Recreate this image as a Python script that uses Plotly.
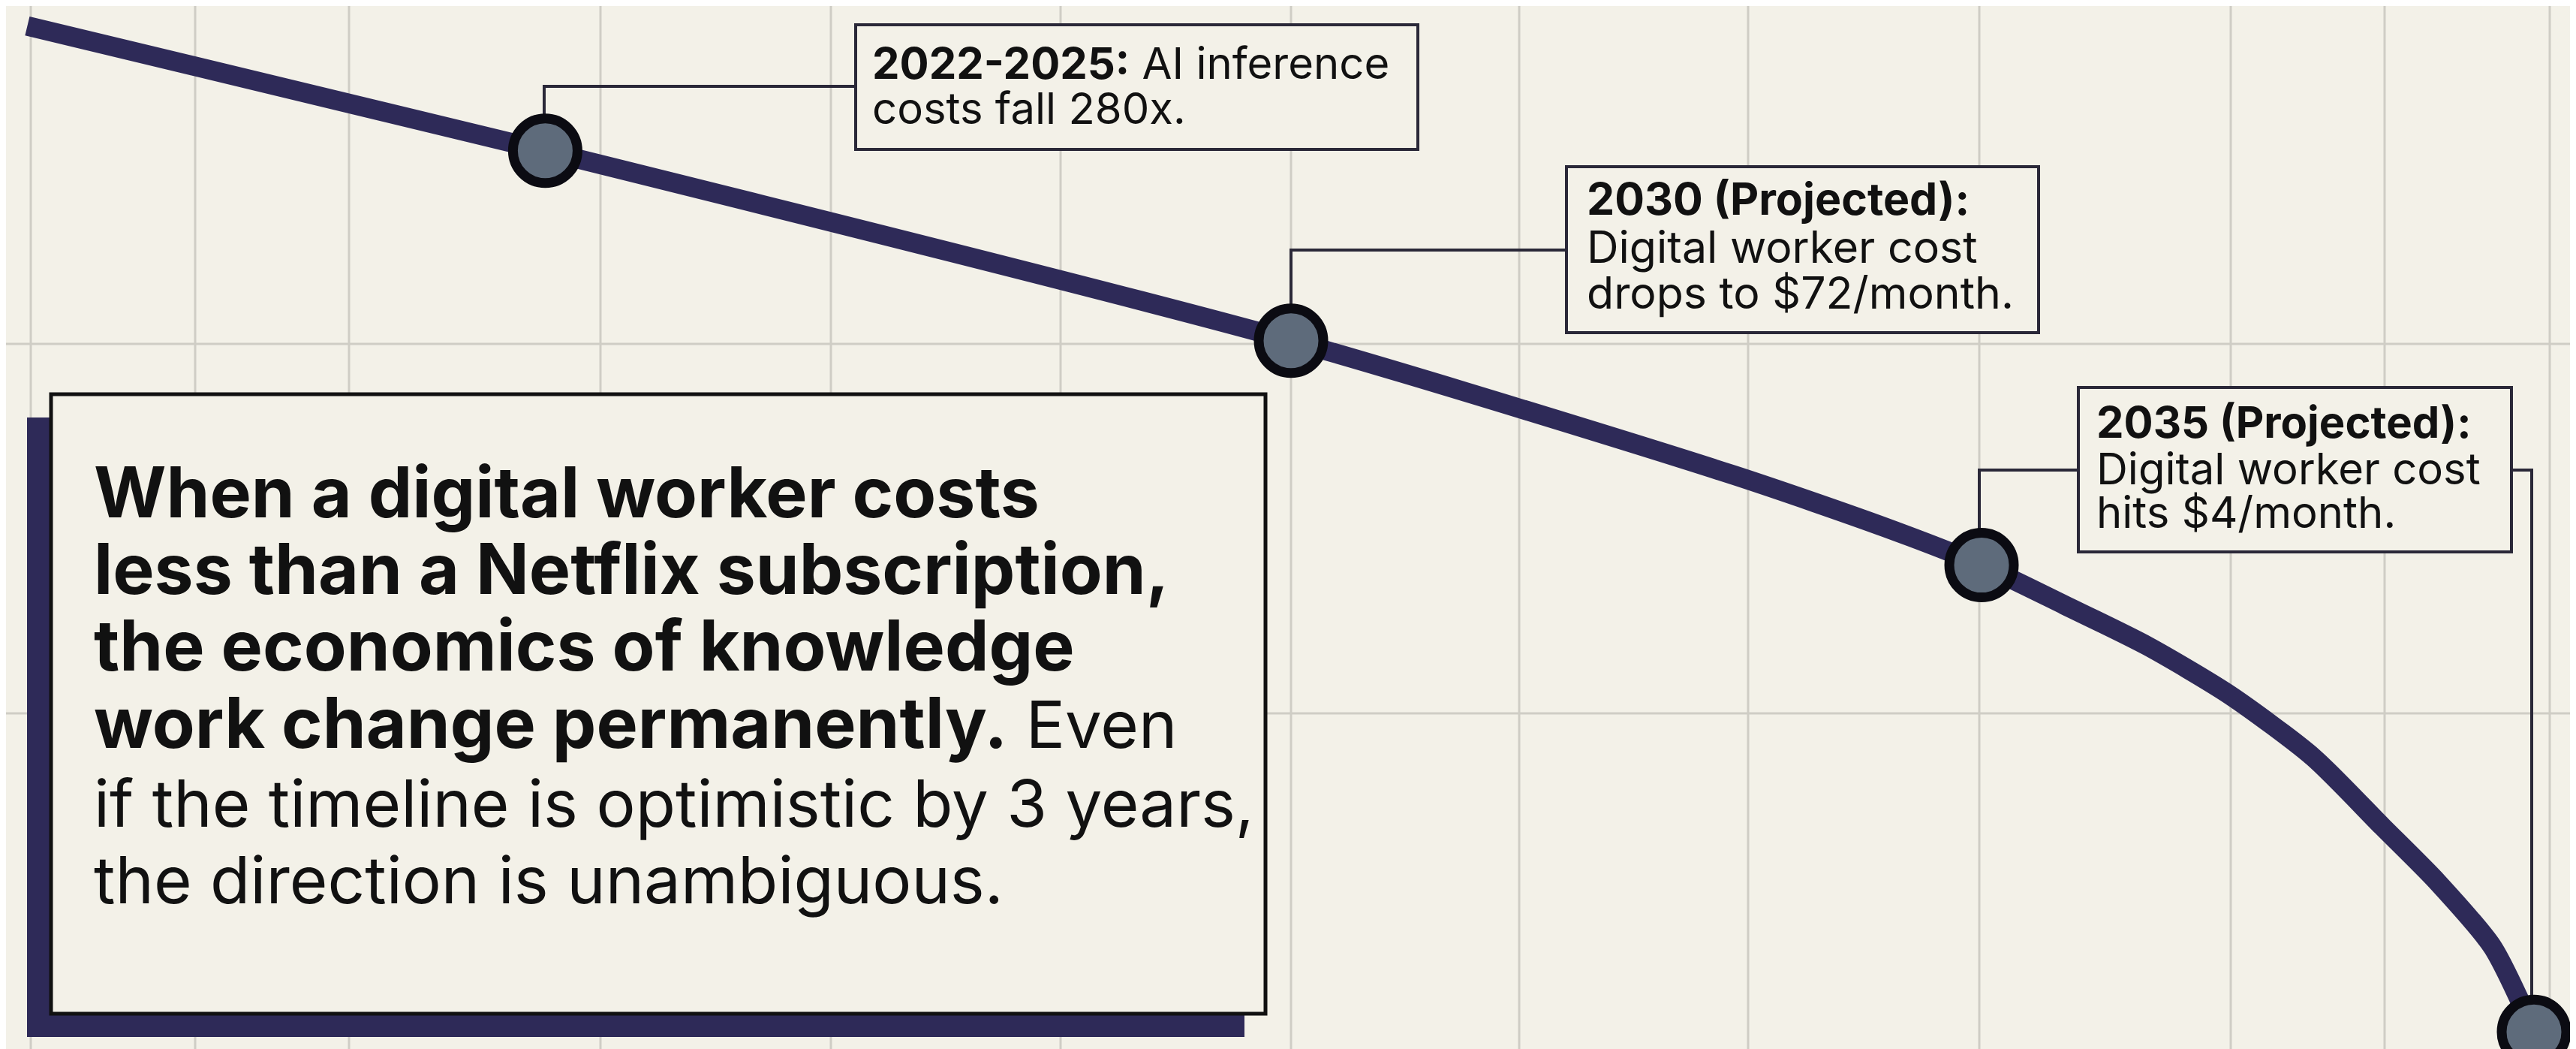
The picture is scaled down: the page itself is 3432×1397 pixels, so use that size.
import plotly.graph_objects as go

# cost curve (x = year, y = relative cost index, 0-100)
curve_years = [2020.85, 2024.6, 2030.0, 2033.2, 2034.3, 2035.0, 2035.6, 2036.2, 2036.8,
               2037.4, 2037.9, 2038.3, 2038.7, 2039.0]
curve_cost = [98.1, 86.2, 68.1, 55.3, 50.3, 46.7, 42.9, 39.0, 34.3,
              28.4, 21.8, 16.5, 10.3, 2.2]

milestone_years = [2024.6, 2030.0, 2035.0, 2039.0]
milestone_cost = [86.2, 68.1, 46.7, 2.2]

callout_2025 = ["<b>2022-2025:</b> AI inference", "costs fall 280x."]
callout_2030 = ["<b>2030 (Projected):</b>", "Digital worker cost", "drops to $72/month."]
callout_2035 = ["<b>2035 (Projected):</b>", "Digital worker cost", "hits $4/month."]
takeaway_bold = [
    "When a digital worker costs",
    "less than a Netflix subscription,",
    "the economics of knowledge",
    "work change permanently.",
]
takeaway_tail = " Even"
takeaway_regular = [
    "if the timeline is optimistic by 3 years,",
    "the direction is unambiguous.",
]

W, H = 3432, 1397
BG = "#f3f1e8"
NAVY = "#2e2a58"
INK = "#111111"
FONT = "Inter"


def px(x):
    return x / W


def py(y):
    return 1 - y / H


fig = go.Figure()

fig.add_trace(go.Scatter(
    x=curve_years, y=curve_cost,
    mode="lines",
    line=dict(color=NAVY, width=26, shape="spline", smoothing=0.7),
    hoverinfo="skip",
))
fig.add_trace(go.Scatter(
    x=milestone_years, y=milestone_cost,
    mode="markers",
    marker=dict(size=86, color="#5e6b7b", line=dict(color="#0b0b12", width=13)),
    cliponaxis=False,
    hoverinfo="skip",
))

shapes = []
# background grid
for gx in [33, 252, 457, 792, 1099, 1405, 1712, 2016, 2321, 2629, 2964, 3169, 3389]:
    shapes.append(dict(type="line", xref="paper", yref="paper", x0=px(gx), x1=px(gx), y0=0, y1=1,
                       line=dict(color="#cfcdc5", width=3), layer="below"))
for gy in [450, 942]:
    shapes.append(dict(type="line", xref="paper", yref="paper", x0=0, x1=1, y0=py(gy), y1=py(gy),
                       line=dict(color="#cfcdc5", width=3), layer="below"))


def rect(x0, y0, x1, y1, fill, color, width):
    shapes.append(dict(type="rect", xref="paper", yref="paper",
                       x0=px(x0), x1=px(x1), y0=py(y1), y1=py(y0),
                       fillcolor=fill, line=dict(color=color, width=width), layer="below"))


def path(points):
    d = "M " + " L ".join(f"{px(a)},{py(b)}" for a, b in points)
    shapes.append(dict(type="path", xref="paper", yref="paper", path=d,
                       line=dict(color="#2a2838", width=4), layer="below"))


# connectors
path([(717, 190), (717, 107), (1132, 107)])
path([(1712, 440), (1712, 325), (2079, 325)])
path([(2629, 740), (2629, 618), (2761, 618)])
path([(3338, 618), (3365, 618), (3365, 1360)])

# callout boxes
rect(1132, 25, 1881, 191, BG, "#2a2838", 4)
rect(2079, 214, 2708, 435, BG, "#2a2838", 4)
rect(2761, 508, 3338, 727, BG, "#2a2838", 4)

# takeaway box with offset shadow
rect(28, 548, 1650, 1373, NAVY, NAVY, 0)
rect(60, 517, 1678, 1342, BG, INK, 5)

annotations = []


def text_lines(lines, x, baselines, size):
    for t, b in zip(lines, baselines):
        annotations.append(dict(
            text=t, xref="paper", yref="paper", x=px(x), y=py(b - 0.44 * size),
            xanchor="left", yanchor="middle", showarrow=False,
            font=dict(family=FONT, size=size, color=INK),
        ))


text_lines(callout_2025, 1152, [102, 162], 58)
text_lines(callout_2030, 2104, [282, 346, 407], 59)
text_lines(callout_2035, 2783, [580, 642, 700], 58)

bold_lines = [f"<b>{t}</b>" for t in takeaway_bold]
bold_lines[-1] += f'<span style="font-size:87px">{takeaway_tail}</span>'
text_lines(bold_lines, 115, [688, 790, 892, 995], 93)
text_lines(takeaway_regular, 115, [1100, 1202], 87)

fig.update_layout(
    width=W, height=H,
    margin=dict(l=0, r=0, t=0, b=0),
    paper_bgcolor=BG, plot_bgcolor=BG,
    showlegend=False,
    shapes=shapes,
    annotations=annotations,
    xaxis=dict(range=[2030 - 1712 / 184, 2030 + (W - 1712) / 184], visible=False, fixedrange=True),
    yaxis=dict(range=[0, 100], visible=False, fixedrange=True),
)

fig.write_html("out.html", config={"displayModeBar": False})
